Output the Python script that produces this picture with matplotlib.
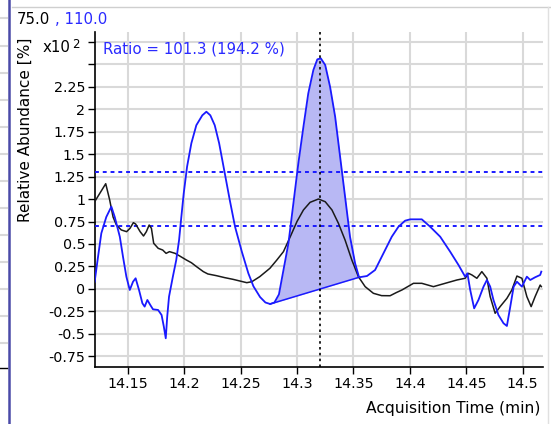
import numpy as np
import matplotlib
matplotlib.use("Agg")
import matplotlib.pyplot as plt
from matplotlib.lines import Line2D
from matplotlib.ticker import FixedLocator, FuncFormatter

plt.rcParams["font.family"] = ["DejaVu Sans"]

# quantifier ion 75.0 (black trace), abundance in units of 10^2 %
t_quant = [14.1207, 14.1305, 14.134, 14.137, 14.140, 14.1443, 14.149, 14.152, 14.155,
           14.157, 14.161, 14.164, 14.1665, 14.169, 14.171, 14.173, 14.177, 14.181,
           14.184, 14.187, 14.192, 14.196, 14.202, 14.2064, 14.211, 14.217, 14.221,
           14.2286, 14.236, 14.2434, 14.2555, 14.260, 14.267, 14.276, 14.282, 14.288,
           14.294, 14.300, 14.3057, 14.3116, 14.319, 14.325, 14.331, 14.3367, 14.3426,
           14.3486, 14.3544, 14.3604, 14.3677, 14.375, 14.3825, 14.388, 14.393, 14.4032,
           14.4106, 14.4209, 14.4313, 14.4417, 14.449, 14.452, 14.455, 14.4594, 14.4638,
           14.4683, 14.4712, 14.4756, 14.480, 14.486, 14.4904, 14.4949, 14.4993, 14.5037,
           14.5075, 14.511, 14.5155, 14.5165]
y_quant = [0.97, 1.17, 0.99, 0.80, 0.71, 0.656, 0.637, 0.674, 0.737,
           0.722, 0.637, 0.589, 0.637, 0.711, 0.674, 0.508, 0.452, 0.433,
           0.396, 0.415, 0.396, 0.367, 0.322, 0.292, 0.248, 0.193, 0.167,
           0.148, 0.126, 0.107, 0.07, 0.081, 0.137, 0.23, 0.32, 0.415,
           0.58, 0.75, 0.878, 0.963, 1.0, 0.97, 0.878, 0.73, 0.544,
           0.322, 0.137, 0.026, -0.048, -0.074, -0.075, -0.04, -0.011, 0.063,
           0.063, 0.026, 0.063, 0.1, 0.119, 0.174, 0.156, 0.119, 0.193,
           0.119, -0.085, -0.27, -0.196, -0.104, -0.011, 0.144, 0.119, -0.085,
           -0.196, -0.085, 0.044, 0.026]

# qualifier ion 110.0 (blue trace)
t_qual = [14.1207, 14.1237, 14.1266, 14.131, 14.1355, 14.1385, 14.143, 14.1458, 14.1488,
          14.1518, 14.1547, 14.157, 14.160, 14.163, 14.165, 14.1674, 14.170, 14.1724,
          14.1769, 14.180, 14.182, 14.1837, 14.185, 14.1866, 14.190, 14.193, 14.1955,
          14.1975, 14.1996, 14.2026, 14.2064, 14.2108, 14.2161, 14.2197, 14.2232, 14.2271,
          14.231, 14.236, 14.2404, 14.2451, 14.2511, 14.2569, 14.2614, 14.2673, 14.2720,
          14.2762, 14.2800, 14.2840, 14.288, 14.2924, 14.2968, 14.3012, 14.3057, 14.310,
          14.3145, 14.318, 14.3211, 14.325, 14.3293, 14.3338, 14.3382, 14.3426, 14.347,
          14.3515, 14.355, 14.362, 14.3692, 14.3766, 14.384, 14.3899, 14.3958, 14.4003,
          14.4106, 14.418, 14.4269, 14.4357, 14.4431, 14.449, 14.451, 14.4535, 14.457,
          14.4608, 14.4653, 14.4683, 14.4712, 14.4741, 14.4785, 14.483, 14.486, 14.489,
          14.492, 14.4949, 14.4993, 14.5037, 14.5067, 14.511, 14.5155, 14.5165]
y_qual = [0.081, 0.359, 0.619, 0.80, 0.915, 0.80, 0.58, 0.359, 0.137,
          -0.011, 0.081, 0.119, -0.011, -0.159, -0.196, -0.122, -0.178, -0.226,
          -0.233, -0.289, -0.419, -0.548, -0.307, -0.085, 0.137, 0.322, 0.544,
          0.80, 1.06, 1.36, 1.62, 1.82, 1.93, 1.97, 1.93, 1.82,
          1.62, 1.286, 0.99, 0.692, 0.415, 0.174, 0.03, -0.09, -0.15,
          -0.167, -0.15, -0.06, 0.21, 0.507, 0.952, 1.397, 1.804, 2.174,
          2.433, 2.552, 2.563, 2.489, 2.248, 1.915, 1.47, 1.026, 0.58,
          0.285, 0.13, 0.144, 0.211, 0.396, 0.581, 0.692, 0.759, 0.774,
          0.774, 0.692, 0.581, 0.415, 0.267, 0.137, 0.174, -0.011, -0.215,
          -0.122, 0.026, 0.1, 0.026, -0.122, -0.289, -0.381, -0.411, -0.196,
          0.026, 0.081, 0.026, 0.137, 0.1, 0.13, 0.156, 0.193]

# integrated peak of the qualifier, baseline drawn between these two points
peak_start = (14.2762, -0.167)
peak_end = (14.355, 0.13)
rt_marker = 14.3205
ratio_range = [0.70, 1.30]

header_quant = "75.0"
header_qual = ", 110.0"
ratio_text = "Ratio = 101.3 (194.2 %)"

fig = plt.figure(figsize=(5.51, 4.24), dpi=100)
ax = fig.add_axes([95 / 551, 1 - 367 / 424, 448 / 551, 335 / 424])

ax.set_xlim(14.121, 14.518)
ax.set_ylim(-0.867, 2.856)

xt = [14.15, 14.2, 14.25, 14.3, 14.35, 14.4, 14.45, 14.5]
yt = np.arange(-0.75, 2.76, 0.25)
ax.xaxis.set_major_locator(FixedLocator(xt))
ax.yaxis.set_major_locator(FixedLocator(yt))
ax.xaxis.set_major_formatter(FuncFormatter(lambda v, p: f"{v:g}"))
ax.yaxis.set_major_formatter(FuncFormatter(lambda v, p: "" if v > 2.3 else f"{v:g}"))
ax.tick_params(labelsize=10.3, length=5, width=1, colors="black", pad=2)
ax.grid(True, color="#d9d9d9", lw=1.5)
ax.set_axisbelow(True)
for s in ["top", "right"]:
    ax.spines[s].set_visible(False)
for s in ["left", "bottom"]:
    ax.spines[s].set_linewidth(1.2)

# shaded peak area
t_arr = np.array(t_qual)
y_arr = np.array(y_qual)
sel = (t_arr >= peak_start[0]) & (t_arr <= peak_end[0])
base = np.interp(t_arr[sel], [peak_start[0], peak_end[0]], [peak_start[1], peak_end[1]])
ax.fill_between(t_arr[sel], base, y_arr[sel], color="#b8b8f4", lw=0, zorder=2)
ax.plot([peak_start[0], peak_end[0]], [peak_start[1], peak_end[1]], color="#1a1aff", lw=1.1, zorder=3)

for r in ratio_range:
    ax.axhline(r, color="#1a1aff", lw=1.4, ls=(0, (2, 2)), zorder=3)
ax.axvline(rt_marker, color="black", lw=1.2, ls=(0, (1.5, 2)), zorder=5)

ax.plot(t_quant, y_quant, color="#1a1a1a", lw=1.1, zorder=4)
ax.plot(t_qual, y_qual, color="#1a1aff", lw=1.3, zorder=4)

fig.text(103 / 551, 1 - 49 / 424, ratio_text, color="#2a2aff",
         fontsize=10.8, va="center", ha="left")

# header and axis labels
fig.text(17 / 551, 1 - 20 / 424, header_quant, fontsize=10.8, color="black", va="center")
fig.text(55 / 551, 1 - 20 / 424, header_qual, fontsize=10.8, color="#2a2aff", va="center")
fig.text(43 / 551, 1 - 48 / 424, "x10", fontsize=10.8, color="black", va="center")
fig.text(72 / 551, 1 - 44 / 424, "2", fontsize=8.5, color="black", va="center")
fig.text(25 / 551, 1 - 222 / 424, "Relative Abundance [%]", rotation=90, fontsize=11,
         ha="center", va="bottom")
fig.text(540 / 551, 1 - 408 / 424, "Acquisition Time (min)", fontsize=11.2,
         ha="right", va="center")

# panel frame and neighbouring pane edge
fig.add_artist(Line2D([12 / 551, 1], [1 - 7 / 424] * 2, color="#cfcfcf", lw=1))
fig.add_artist(Line2D([548 / 551] * 2, [0, 1 - 7 / 424], color="#e0e0e0", lw=1))
fig.add_artist(Line2D([9 / 551] * 2, [0, 1], color="#4a4aa8", lw=1.8))
for py in [18, 46, 73, 100, 127, 154, 181, 208, 235, 262, 289, 316, 343]:
    fig.add_artist(Line2D([0, 7 / 551], [1 - py / 424] * 2, color="#d9d9d9", lw=1.5))
fig.add_artist(Line2D([0, 7 / 551], [1 - 368 / 424] * 2, color="black", lw=1))

fig.savefig("out.png", dpi=100)
